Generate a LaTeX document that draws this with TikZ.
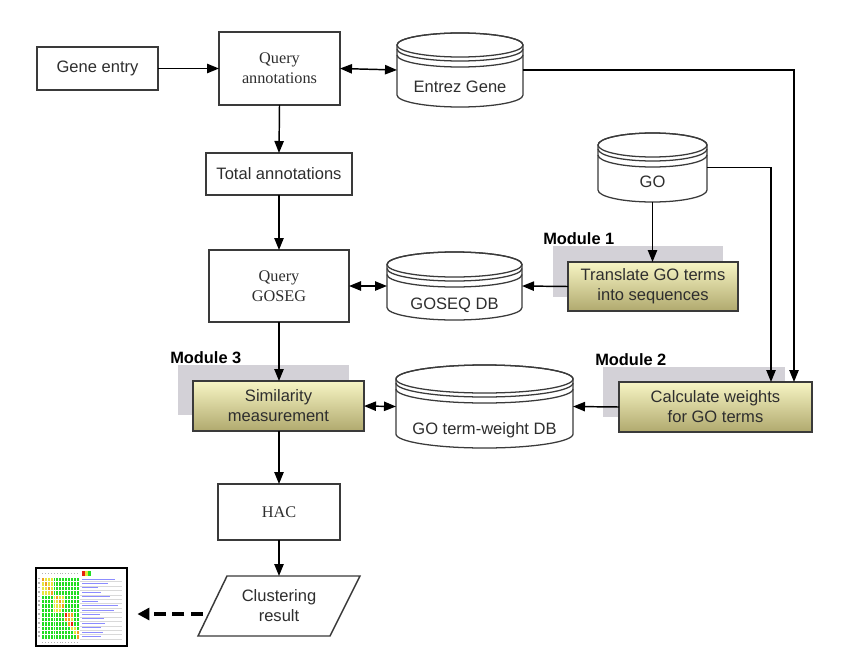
\documentclass[tikz,border=0pt]{standalone}
\usepackage{fontspec}
\setmainfont{Liberation Sans}
\newfontfamily\seriffont{Liberation Serif}
\usetikzlibrary{fit,arrows.meta}
\definecolor{lineg}{HTML}{3A3A3A}
\definecolor{shadowg}{HTML}{D3D1D7}
\definecolor{ytop}{HTML}{F7F5C4}
\definecolor{ymid}{HTML}{ECE89E}
\definecolor{ybot}{HTML}{B0A96E}
\definecolor{txtg}{HTML}{2E2E2E}
\definecolor{hmgreen}{HTML}{22DD22}
\definecolor{hmyellow}{HTML}{E6E63C}
\definecolor{hmorange}{HTML}{F0A020}
\definecolor{hmred}{HTML}{E82010}
\tikzset{
  sansfont/.style={font=\fontsize{12.4}{15}\selectfont},
  seriffnt/.style={font=\seriffont\fontsize{12.2}{15}\selectfont},
  box/.style={draw=lineg, line width=1.1pt, fill=white, inner sep=0pt, outer sep=0pt},
  ybox/.style={draw=lineg, line width=1.1pt, top color=ytop, middle color=ymid, bottom color=ybot,
     inner sep=0pt, outer sep=0pt},
  txt/.style={sansfont, align=center, text=txtg, inner sep=0pt},
  stxt/.style={seriffnt, align=center, text=txtg, inner sep=0pt},
  shadowrect/.style={fill=shadowg, draw=none},
  modlbl/.style={font=\fontsize{12.3}{14}\selectfont\bfseries, anchor=west, inner sep=0pt},
  cyl/.style={draw=lineg, line width=0.95pt},
  tip/.tip={Triangle[length=9pt,width=7pt]},
  arr/.style={line width=1.1pt, draw=black, -tip},
  darr/.style={line width=1.1pt, draw=black, tip-tip},
}
\newcommand\dbcyl[8]{%
  \pgfmathsetmacro\cxr{(#3-#2)*0.375}%
  \pgfmathsetmacro\cyr{#6*0.75}%
  \pgfmathsetmacro\cxc{(#2+#3)/2}%
  \pgfmathsetmacro\cyt{#4+#6}%
  \pgfmathsetmacro\cyb{#5-#6}%
  \filldraw[cyl, fill=white] (#2,\cyt) -- (#2,\cyb)
     arc[start angle=180,end angle=360,x radius=\cxr pt,y radius=\cyr pt]
     -- (#3,\cyt) arc[start angle=0,end angle=180,x radius=\cxr pt,y radius=\cyr pt];
  \draw[cyl] (\cxc,\cyt) ellipse[x radius=\cxr pt, y radius=\cyr pt];
  \draw[cyl] (#2,{\cyt+4}) arc[start angle=180,end angle=360,x radius=\cxr pt,y radius=\cyr pt];
  \draw[cyl] (#2,{\cyt+10}) arc[start angle=180,end angle=360,x radius=\cxr pt,y radius=\cyr pt];
  \node[fit={(#2,#4)(#3,#5)}, inner sep=0pt, outer sep=0pt, draw=none] (#1) {};
  \node[txt] at (\cxc,#8) {#7};
}
\begin{document}
\begin{tikzpicture}[x=0.75pt,y=-0.75pt]
\useasboundingbox[fill=white] (0,0) rectangle (841,667);

% plain boxes
\node[box, fit={(37,47)(158,90)}] (ge) {};
\node[txt] at (ge.center) {Gene entry};
\node[box, fit={(219,32)(340,105)}] (qa) {};
\node[stxt] at (qa.center) {Query\\annotations};
\node[box, fit={(206,153)(352,195)}] (ta) {};
\node[txt] at (ta.center) {Total annotations};
\node[box, fit={(209,250)(349,322)}] (qg) {};
\node[stxt] at (qg.center) {Query\\GOSEG};
\node[box, fit={(218,484)(340,540)}] (hac) {};
\node[stxt] at (hac.center) {HAC};

% databases
\dbcyl{eg}{397}{523}{33}{107}{12}{Entrez Gene}{87}
\dbcyl{go}{598}{707}{133}{202}{12}{GO}{182}
\dbcyl{gs}{387}{522}{252}{320}{12.5}{GOSEQ DB}{305}
\dbcyl{gw}{396}{573}{365}{448}{14}{GO term-weight DB}{430}

% modules
\fill[shadowrect] (553,246) rectangle (723,297);
\node[modlbl] (m1) at (543,239) {Module 1};
\node[ybox, fit={(568,262)(738,311)}] (tr) {};
\node[txt] at (tr.center) {Translate GO terms\\into sequences};

\fill[shadowrect] (178,365) rectangle (349,415);
\node[modlbl] (m3) at (170,358) {Module 3};
\node[ybox, fit={(193,381)(364,431)}] (sm) {};
\node[txt] at (sm.center) {Similarity\\measurement};

\fill[shadowrect] (603,367) rectangle (785,417);
\node[modlbl] (m2) at (595,360) {Module 2};
\node[ybox, fit={(619,382)(812,432)}] (cw) {};
\node[txt] at (cw.center) {Calculate weights\\for GO terms};

% clustering result parallelogram
\filldraw[draw=lineg, line width=1.1pt, fill=white] (227,576) -- (360,576) -- (330,636) -- (198,636) -- cycle;
\node[fit={(198,576)(360,636)}, inner sep=0pt, outer sep=0pt] (cr) {};
\node[txt] at (cr.center) {Clustering\\result};
\coordinate (crl) at (203,614);

% heatmap thumbnail
\node[draw=black, line width=1.6pt, fill=white, fit={(36,568)(127,646)}, inner sep=0pt] (hm) {};
\fill[hmgreen] (41,577) rectangle (79,639);
\foreach \r/\c/\col in {1/1/hmorange,1/2/hmyellow,1/3/hmyellow,1/4/hmyellow,
  2/1/hmyellow,2/2/hmorange,2/3/hmyellow,2/4/hmyellow,
  3/1/hmyellow,3/2/hmyellow,3/3/hmorange,3/4/hmyellow,
  4/1/hmyellow,4/2/hmyellow,4/3/hmyellow,4/4/hmorange,
  5/5/hmyellow,5/6/hmorange,5/7/hmyellow,5/8/hmyellow,
  6/5/hmyellow,6/6/hmyellow,6/7/hmorange,6/8/hmyellow,
  7/5/hmyellow,7/6/hmyellow,7/7/hmyellow,7/8/hmorange,
  8/5/hmyellow,8/6/hmyellow,8/7/hmyellow,
  9/9/hmred,9/10/hmorange,9/11/hmorange,
  10/9/hmorange,10/10/hmorange,10/11/hmyellow,
  11/10/hmorange,11/11/hmred,
  12/11/hmyellow,12/12/hmyellow,
  13/12/hmyellow,13/13/hmorange,14/13/hmorange}
  \fill[\col] ({41+(\c-1)*2.923},{577+(\r-1)*4.43}) rectangle ++(2.923,4.43);
\foreach \i in {0,...,13} \draw[white, line width=0.25pt] ({41+\i*2.923},577) -- ++(0,62);
\foreach \i in {0,...,14} \draw[white, line width=0.25pt] (41,{577+\i*4.43}) -- ++(38,0);
\foreach \i in {0,...,12} {
  \fill[gray!60] ({42+\i*2.923},572.5) rectangle ++(1,1.6);
  \fill[gray!60] ({42+\i*2.923},641.5) rectangle ++(1,1.6);}
\foreach \i in {1,...,14} \fill[gray!60] (37.5,{577.8+(\i-1)*4.43}) rectangle ++(2,1.6);
\fill[hmred] (82,571) rectangle ++(3,5);
\fill[hmyellow] (85,571) rectangle ++(3,5);
\fill[hmgreen] (88,571) rectangle ++(3,5);
\foreach \r/\len in {1/33,2/26,3/16,4/19,5/28,6/16,7/36,8/32,9/18,10/22,11/23,12/19,13/21,14/19}{
  \draw[blue!45, line width=0.6pt] (82,{577+(\r-1)*4.43+2}) -- ++(\len,0);
  \draw[gray!30, line width=0.3pt] (80,{577+\r*4.43}) -- (122,{577+\r*4.43});}

% connectors
\draw[arr] (ge.east) -- (qa.west);
\draw[darr] (qa.east) -- (eg.west);
\draw[arr] (eg.east) -- (794,70) -- (cw.north -| 794,0);
\draw[arr] (go.east) -- (771,167.5) -- (cw.north -| 771,0);
\draw[arr] (go.south) -- (tr.north -| go.south);
\draw[arr] (tr.west) -- (gs.east);
\draw[darr] (qg.east) -- (gs.west);
\draw[arr] (cw.west) -- (gw.east);
\draw[darr] (sm.east) -- (gw.west);
\draw[arr] (qa.south) -- (ta.north);
\draw[arr] (ta.south) -- (qg.north -| ta.south);
\draw[arr] (qg.south -| 279,0) -- (sm.north -| 279,0);
\draw[arr] (sm.south -| 279,0) -- (hac.north -| 279,0);
\draw[arr] (hac.south -| 279,0) -- (cr.north -| 279,0);
\draw[line width=2.4pt, dash pattern=on 9pt off 5pt, -{Triangle[length=9pt,width=9pt]}, shorten >=7pt] (crl) -- (hm.east |- crl);
\end{tikzpicture}
\end{document}
